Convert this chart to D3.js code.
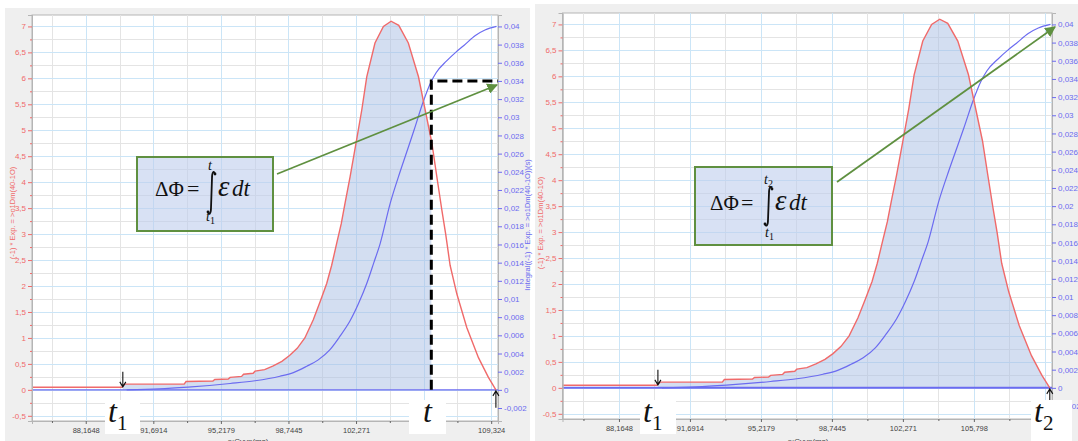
<!DOCTYPE html>
<html>
<head>
<meta charset="utf-8">
<script src="https://cdn.jsdelivr.net/npm/d3@7"></script>
<style>
  body { margin: 0; background: #fff; }
  svg { display: block; font-family: "Liberation Sans", Arial, sans-serif; }
</style>
</head>
<body>
<svg id="chart" width="1078" height="441"></svg>
<script>
// EMF curve (left axis)
const emfTime = [85.36, 90.05, 90.2, 93.3, 93.4, 94.8, 94.9, 95.6, 95.7, 96.3, 96.4, 96.9, 97.0, 97.5, 97.95,
  98.4, 98.8, 99.2, 99.6, 100.04, 100.4, 100.74, 101.0, 101.26, 101.5, 101.7, 101.96, 102.27, 102.57,
  102.83, 103.26, 103.7, 104.1, 104.5, 105.0, 105.53, 105.88, 106.23, 106.49, 106.75, 106.95, 107.18,
  107.53, 108.05, 108.66, 109.18, 109.57];
const emfValue = [0.05, 0.05, 0.11, 0.11, 0.16, 0.17, 0.2, 0.21, 0.24, 0.26, 0.3, 0.32, 0.36, 0.39, 0.46,
  0.55, 0.66, 0.8, 1.0, 1.35, 1.7, 2.05, 2.4, 2.82, 3.2, 3.6, 4.1, 4.75, 5.39,
  6.03, 6.68, 7.0, 7.1, 7.02, 6.68, 6.03, 5.39, 4.75, 4.1, 3.46, 3.0, 2.4,
  1.85, 1.2, 0.62, 0.24, 0.0];

// flux integral (right axis)
const fluxTime = [90.3, 92.0, 93.5, 95.7, 97.0, 98.3, 99.0, 99.7, 100.3, 100.9, 101.4, 101.96, 102.4,
  102.83, 103.2, 103.53, 104.05, 104.57, 105.0, 105.3, 105.79, 106.14, 106.45, 107.0, 107.5, 107.9,
  108.5, 109.0, 109.6];
const fluxValue = [0, 0.0001, 0.0003, 0.0007, 0.001, 0.0015, 0.0019, 0.0026, 0.0033, 0.0044, 0.0058, 0.0076, 0.0095,
  0.0117, 0.014, 0.0161, 0.0205, 0.024, 0.0267, 0.0286, 0.0318, 0.0337, 0.0349, 0.0362, 0.0372, 0.0379,
  0.039, 0.0396, 0.04];

const xTickValues = [88.1648, 91.6914, 95.2179, 98.7445, 102.271, 105.798, 109.324];
const xTickLabels = ["88,1648", "91,6914", "95,2179", "98,7445", "102,271", "105,798", "109,324"];
const leftTicks = d3.range(-0.5, 7.01, 0.5);
const rightTicks = d3.range(-1, 20.5, 1).map(k => k * 0.002);

const t1 = 90.1;        // start of the pulse
const tMark = 106.2;    // the "t" marker on the left chart
const fluxAtT = 0.034;  // flux reached at tMark
const tEnd = 109.57;    // t2

const xDomain = [85.36, 109.68];
const yDomain = [-0.6, 7.22];
const emfAxisMax = 7, fluxAxisMax = 0.04;

const locale = d3.formatLocale({decimal: ",", thousands: ".", grouping: [3], currency: ["", ""], minus: "-"});
const fmtL = locale.format(".1~f");
const fmtR = locale.format(".3~f");

const RED = "#f06a6a", BLUE = "#6b6bf0", GREEN = "#5f9040";
const serif = "'Liberation Serif', 'DejaVu Serif', serif";

const svg = d3.select("#chart");
const defs = svg.append("defs");
defs.append("marker").attr("id", "garrow").attr("viewBox", "0 0 10 10")
  .attr("refX", 9).attr("refY", 5).attr("markerWidth", 6).attr("markerHeight", 6)
  .attr("orient", "auto").attr("markerUnits", "strokeWidth")
  .append("path").attr("d", "M0,0 L10,5 L0,10 z").attr("fill", GREEN);

const panels = [
  { id: "L", bg: [5, 8, 525, 433], px: [32, 498], py: [15, 421], fillEnd: tMark, dashed: true,
    leftTitle: [12, 213], rightTitle: [527, 225], xTitle: 248,
    box: {x: 137, y: 157, w: 136, h: 74, base: 196, dphi: 155, eq: 187, intX: 211, intTop: 172, intBot: 214,
          eps: 218, dt: 232, top: [208, 170, ""], bot: [206, 221, "1"]},
    arrow: [[277, 174], [497, 85]],
    labels: [{x: 105, w: 35, sub: "1"}, {x: 409, w: 37, sub: ""}],
    marks: [{v: t1, dir: "down"}, {v: tEnd, dir: "up"}] },
  { id: "R", bg: [535, 4, 543, 437], px: [562.5, 1052], py: [13, 419], fillEnd: tEnd, dashed: false,
    leftTitle: [540, 223], rightTitle: null, xTitle: 808,
    box: {x: 695, y: 167, w: 137, h: 78, base: 210, dphi: 710, eq: 741, intX: 768, intTop: 187, intBot: 226,
          eps: 775, dt: 789, top: [764, 184, "2"], bot: [765, 237, "1"]},
    arrow: [[837, 182], [1055, 27]],
    labels: [{x: 640, w: 36, sub: "1"}, {x: 1031, w: 41, sub: "2", toBottom: true}],
    marks: [{v: t1, dir: "down"}, {v: tEnd, dir: "up"}] }
];

const emf = emfTime.map((t, i) => ({t, v: emfValue[i]}));
const flux = fluxTime.map((t, i) => ({t, v: fluxValue[i]}));

panels.forEach(p => {
  const g = svg.append("g");
  g.append("rect").attr("x", p.bg[0]).attr("y", p.bg[1]).attr("width", p.bg[2]).attr("height", p.bg[3]).attr("fill", "#efefef");
  g.append("rect").attr("x", p.px[0]).attr("y", p.py[0]).attr("width", p.px[1] - p.px[0]).attr("height", p.py[1] - p.py[0])
    .attr("fill", "#fff").attr("stroke", "#b5b5b5").attr("stroke-width", 1);

  const x = d3.scaleLinear().domain(xDomain).range(p.px);
  const y = d3.scaleLinear().domain(yDomain).range([p.py[1], p.py[0]]);
  const yR = d3.scaleLinear().domain(yDomain.map(d => d * fluxAxisMax / emfAxisMax)).range([p.py[1], p.py[0]]);

  // grid
  const step = xTickValues[1] - xTickValues[0];
  const minorX = xTickValues.map(v => v - step / 2).concat([xTickValues[xTickValues.length - 1] + step / 2])
    .filter(v => v > xDomain[0] && v < xDomain[1]);
  const minorY = d3.range(-0.25, 7.2, 0.5);
  const grid = g.append("g").attr("shape-rendering", "crispEdges");
  grid.selectAll(".hm").data(minorY).join("line").attr("x1", p.px[0]).attr("x2", p.px[1])
    .attr("y1", d => Math.round(y(d)) + 0.5).attr("y2", d => Math.round(y(d)) + 0.5).attr("stroke", "#e4e4e4");
  grid.selectAll(".vm").data(minorX).join("line").attr("y1", p.py[0]).attr("y2", p.py[1])
    .attr("x1", d => Math.round(x(d)) + 0.5).attr("x2", d => Math.round(x(d)) + 0.5).attr("stroke", "#e4e4e4");
  grid.selectAll(".hM").data(leftTicks).join("line").attr("x1", p.px[0]).attr("x2", p.px[1])
    .attr("y1", d => Math.round(y(d)) + 0.5).attr("y2", d => Math.round(y(d)) + 0.5).attr("stroke", "#cbe5f7");
  grid.selectAll(".vM").data(xTickValues.filter(v => v < xDomain[1])).join("line").attr("y1", p.py[0]).attr("y2", p.py[1])
    .attr("x1", d => Math.round(x(d)) + 0.5).attr("x2", d => Math.round(x(d)) + 0.5).attr("stroke", "#cbe5f7");

  // shaded area under the EMF curve
  const clipId = "clip" + p.id;
  defs.append("clipPath").attr("id", clipId).append("rect")
    .attr("x", x(t1)).attr("y", p.py[0]).attr("width", x(p.fillEnd) - x(t1)).attr("height", p.py[1] - p.py[0]);
  g.append("path").datum(emf).attr("clip-path", `url(#${clipId})`)
    .attr("d", d3.area().x(d => x(d.t)).y0(y(0)).y1(d => y(d.v)))
    .attr("fill", "rgb(168,190,228)").attr("fill-opacity", 0.5);

  // curves
  g.append("line").attr("x1", p.px[0]).attr("x2", p.px[1]).attr("y1", yR(0)).attr("y2", yR(0))
    .attr("stroke", BLUE).attr("stroke-width", p.id === "R" ? 2 : 1.3);
  g.append("path").datum(flux).attr("d", d3.line().x(d => x(d.t)).y(d => yR(d.v)).curve(d3.curveMonotoneX))
    .attr("fill", "none").attr("stroke", BLUE).attr("stroke-width", 1.2);
  g.append("path").datum(emf).attr("d", d3.line().x(d => x(d.t)).y(d => y(d.v)))
    .attr("fill", "none").attr("stroke", RED).attr("stroke-width", 1.4);

  // axes
  const axL = g.append("g").attr("transform", `translate(${p.px[0]},0)`)
    .call(d3.axisLeft(y).tickValues(leftTicks).tickFormat(fmtL).tickSize(4).tickPadding(2));
  axL.selectAll("text").attr("fill", RED).attr("font-size", 8);
  axL.selectAll("line").attr("stroke", RED);
  const axLm = g.append("g").attr("transform", `translate(${p.px[0]},0)`)
    .call(d3.axisLeft(y).tickValues(minorY).tickFormat("").tickSize(2));
  axLm.selectAll("line").attr("stroke", RED);
  [axL, axLm].forEach(a => a.select(".domain").attr("stroke", "#b5b5b5"));

  const axR = g.append("g").attr("transform", `translate(${p.px[1]},0)`)
    .call(d3.axisRight(yR).tickValues(rightTicks).tickFormat(fmtR).tickSize(4).tickPadding(2));
  axR.selectAll("text").attr("fill", BLUE).attr("font-size", 8);
  axR.selectAll("line").attr("stroke", BLUE);
  axR.select(".domain").attr("stroke", "#b5b5b5");

  const axX = g.append("g").attr("transform", `translate(0,${p.py[1]})`)
    .call(d3.axisBottom(x).tickValues(xTickValues.filter(v => v < xDomain[1])).tickFormat((d, i) => xTickLabels[i]).tickSize(3).tickPadding(4));
  axX.selectAll("text").attr("fill", "#444").attr("font-size", 7.5);
  axX.selectAll("line").attr("stroke", "#666");
  axX.select(".domain").attr("stroke", "#b5b5b5");
  const axXm = g.append("g").attr("transform", `translate(0,${p.py[1]})`)
    .call(d3.axisBottom(x).tickValues(minorX).tickFormat("").tickSize(2));
  axXm.selectAll("line").attr("stroke", "#666");
  axXm.select(".domain").remove();

  // axis titles
  g.append("text").attr("transform", `translate(${p.leftTitle[0]},${p.leftTitle[1]}) rotate(-90)`)
    .attr("text-anchor", "middle").attr("dy", "0.35em").attr("font-size", 7.5).attr("fill", RED)
    .text("(-1) * Exp. = >o1Dm(40-1O)");
  if (p.rightTitle) {
    g.append("text").attr("transform", `translate(${p.rightTitle[0]},${p.rightTitle[1]}) rotate(-90)`)
      .attr("text-anchor", "middle").attr("dy", "0.35em").attr("font-size", 7.5).attr("fill", BLUE)
      .text("Integral((-1) * Exp. = >o1Dm(40-1O))(s)");
  }
  g.append("text").attr("x", p.xTitle).attr("y", 444).attr("text-anchor", "middle")
    .attr("font-size", 8).attr("fill", "#444").text("o:Cyyp(ms)");

  // dashed guide at t
  if (p.dashed) {
    g.append("path")
      .attr("d", `M${x(tMark)},${y(0)} V${yR(fluxAtT)} H${p.px[1]}`)
      .attr("fill", "none").attr("stroke", "#000").attr("stroke-width", 3).attr("stroke-dasharray", "10,5");
  }

  // formula box
  const b = p.box;
  g.append("rect").attr("x", b.x).attr("y", b.y).attr("width", b.w).attr("height", b.h)
    .attr("fill", "rgb(190,205,236)").attr("fill-opacity", 0.6).attr("stroke", GREEN).attr("stroke-width", 2);
  const ft = g.append("g").attr("font-family", serif).attr("fill", "#111");
  ft.append("text").attr("x", b.dphi).attr("y", b.base).attr("font-size", 21).text("ΔΦ");
  ft.append("text").attr("x", b.eq).attr("y", b.base).attr("font-size", 22).text("=");
  ft.append("text").attr("x", b.eps).attr("y", b.base).attr("font-size", 29).attr("font-style", "italic").text("ε");
  ft.append("text").attr("x", b.dt).attr("y", b.base).attr("font-size", 23).attr("font-style", "italic").text("dt");
  const ix = b.intX;
  ft.append("path")
    .attr("d", `M${ix + 4},${b.intTop + 2} C${ix + 3},${b.intTop - 2} ${ix + 1},${b.intTop} ${ix + 1},${b.intTop + 6}
                L${ix},${b.intBot - 6} C${ix},${b.intBot} ${ix - 2},${b.intBot + 1} ${ix - 3},${b.intBot - 2}`)
    .attr("fill", "none").attr("stroke", "#111").attr("stroke-width", 1.8);
  ft.append("circle").attr("cx", ix + 4).attr("cy", b.intTop + 2).attr("r", 1.4);
  ft.append("circle").attr("cx", ix - 3).attr("cy", b.intBot - 2).attr("r", 1.4);
  [b.top, b.bot].forEach(l => {
    const tx = ft.append("text").attr("x", l[0]).attr("y", l[1]).attr("font-size", 14);
    tx.append("tspan").attr("font-style", "italic").text("t");
    if (l[2]) tx.append("tspan").attr("font-size", 10).attr("dy", 3).text(l[2]);
  });

  // green arrow
  g.append("line").attr("x1", p.arrow[0][0]).attr("y1", p.arrow[0][1]).attr("x2", p.arrow[1][0]).attr("y2", p.arrow[1][1])
    .attr("stroke", GREEN).attr("stroke-width", 1.8).attr("marker-end", "url(#garrow)");

  // small black arrows at t1 and t2
  p.marks.forEach(m => {
    const mx = x(m.v);
    const y0 = y(0);
    const [a, c] = m.dir === "down" ? [y0 - 18, y0 - 3] : [y0 + 18, y0 + 1];
    const s = m.dir === "down" ? -1 : 1;
    g.append("path").attr("d", `M${mx},${a} L${mx},${c} M${mx - 3},${c + 5 * s} L${mx},${c} L${mx + 3},${c + 5 * s}`)
      .attr("fill", "none").attr("stroke", "#111").attr("stroke-width", 1.1);
  });

  // white label boxes t1 / t / t2
  p.labels.forEach(l => {
    g.append("rect").attr("x", l.x).attr("y", 400).attr("width", l.w).attr("height", l.toBottom ? 41 : 34).attr("fill", "#fff");
    const tx = g.append("text").attr("x", l.x + (l.sub ? 3 : 14)).attr("y", 422)
      .attr("font-family", serif).attr("font-size", 32).attr("fill", "#111");
    tx.append("tspan").attr("font-style", "italic").text("t");
    if (l.sub) tx.append("tspan").attr("font-size", 21).attr("dy", 8).text(l.sub);
  });
});
</script>
</body>
</html>
